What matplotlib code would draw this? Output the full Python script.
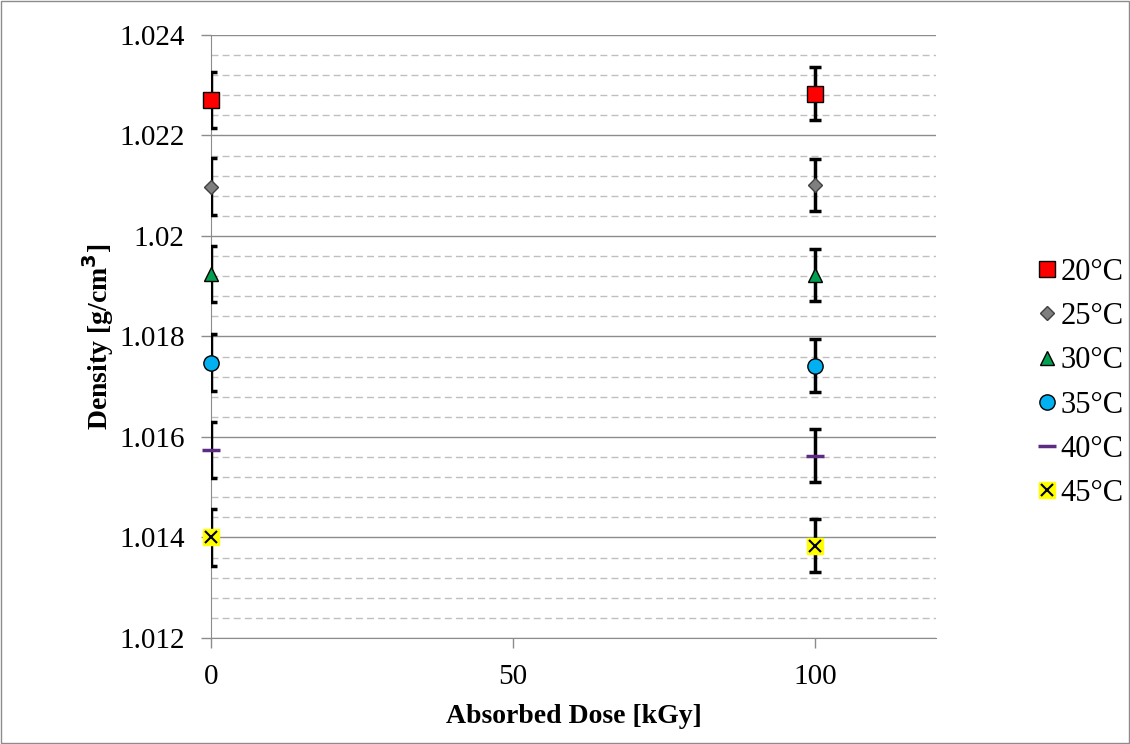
import matplotlib.pyplot as plt
from matplotlib.ticker import MultipleLocator
from matplotlib.patches import Rectangle

# absorbed dose (kGy)
dose = [0, 100]

labels = ['20°C', '25°C', '30°C', '35°C', '40°C', '45°C']
density = [
    [1.02271, 1.02283],
    [1.02098, 1.02102],
    [1.01924, 1.01923],
    [1.01748, 1.01742],
    [1.01574, 1.01563],
    [1.01400, 1.01384],
]
errors = [
    [0.00056, 0.00053],
    [0.00057, 0.00052],
    [0.00056, 0.00052],
    [0.00057, 0.00053],
    [0.00056, 0.00053],
    [0.00057, 0.00053],
]

plt.rcParams['font.family'] = ['Liberation Serif', 'DejaVu Serif']

fig = plt.figure(figsize=(11.3, 7.44), dpi=100)
ax = fig.add_axes([0.1867, 0.1425, 0.6416, 0.8105])

fig.patches.append(Rectangle((0.001, 0.001), 0.998, 0.998, transform=fig.transFigure,
                             fill=False, edgecolor='#8c8c8c', linewidth=1.0))

styles = [
    dict(marker='s', markersize=11, markerfacecolor='#ff0000', markeredgecolor='black'),
    dict(marker='D', markersize=7, markerfacecolor='#7f7f7f', markeredgecolor='#404040'),
    dict(marker='^', markersize=10, markerfacecolor='#00a050', markeredgecolor='black'),
    dict(marker='o', markersize=11, markerfacecolor='#00b0f0', markeredgecolor='black'),
    dict(marker='_', markersize=13, markeredgecolor='#5a2d82', markeredgewidth=2.5),
    dict(marker='s', markersize=11, markerfacecolor='#ffff00', markeredgecolor='#ffff00'),
]

for i in range(len(labels)):
    ax.errorbar(dose, density[i], yerr=errors[i], fmt='none', ecolor='black',
                elinewidth=2.5, capsize=4, capthick=2.5, zorder=3)
    ax.plot(dose, density[i], linestyle='none', clip_on=False, zorder=4,
            label=labels[i] if i < 5 else None, **styles[i])

# x marker drawn over yellow square for 45°C
ax.plot(dose, density[5], linestyle='none', marker='x', markersize=9,
        markeredgecolor='black', markeredgewidth=1.5, clip_on=False, zorder=5)

handles, lbls = ax.get_legend_handles_labels()
h45 = (plt.Line2D([], [], linestyle='none', **styles[5]),
       plt.Line2D([], [], linestyle='none', marker='x', markersize=9,
                  markeredgecolor='black', markeredgewidth=1.5))
handles.append(h45)
lbls.append(labels[5])
ax.legend(handles, lbls, loc='center left', bbox_to_anchor=(1.123, 0.423), frameon=False,
          fontsize=22, handlelength=0.6, handletextpad=0.15, labelspacing=0.5,
          borderaxespad=0)

ax.set_xlim(0, 120)
ax.set_ylim(1.012, 1.024)
ax.set_xticks([0, 50, 100])
ax.yaxis.set_major_locator(MultipleLocator(0.002))
ax.yaxis.set_minor_locator(MultipleLocator(0.0004))
ax.set_yticks([1.012, 1.014, 1.016, 1.018, 1.02, 1.022, 1.024])
ax.set_yticklabels(['1.012', '1.014', '1.016', '1.018', '1.02', '1.022', '1.024'])

ax.grid(which='major', axis='y', color='#8c8c8c', linewidth=1.0)
ax.grid(which='minor', axis='y', color='#bfbfbf', linewidth=1.0, linestyle=(0, (5, 3)))
ax.set_axisbelow(True)

for s in ['top', 'right']:
    ax.spines[s].set_visible(False)
for s in ['left', 'bottom']:
    ax.spines[s].set_color('#8c8c8c')
ax.tick_params(axis='both', which='major', labelsize=21, color='#8c8c8c',
               length=7, width=1, direction='out')
ax.tick_params(axis='y', which='major', pad=12)
ax.tick_params(axis='x', which='major', pad=12)
ax.tick_params(axis='y', which='minor', length=0)

ax.set_xlabel('Absorbed Dose [kGy]', fontsize=20, fontweight='bold', labelpad=10)
ax.set_ylabel('Density [g/cm$^{\\mathbf{3}}$]', fontsize=20, fontweight='bold', labelpad=2)

fig.savefig('out.png', dpi=100)
